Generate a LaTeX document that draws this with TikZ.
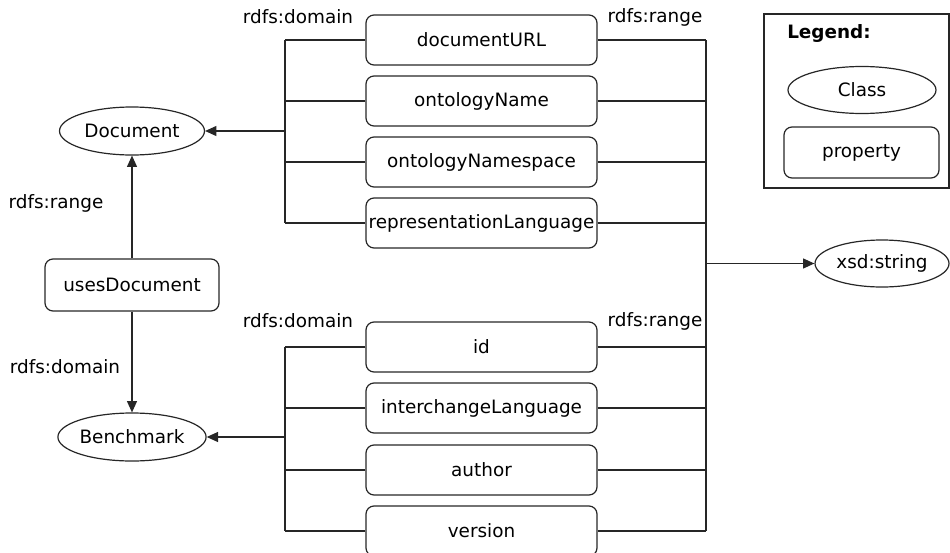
\documentclass[tikz,border=0pt]{standalone}
\usepackage{fontspec}
\setmainfont{DejaVu Sans}
\usetikzlibrary{shapes.geometric,arrows.meta}

\begin{document}
\begin{tikzpicture}[x=0.75pt,y=-0.75pt,
  every node/.style={font=\fontsize{13.8}{16}\selectfont},
  line/.style={line width=0.9pt,draw=black!85},
  arr/.style={line,-{Triangle[length=8.5pt,width=7.5pt]}},
  prop/.style={draw=black!85,line width=0.9pt,rounded corners=6pt,
               minimum width=173.25pt,minimum height=37.5pt,inner sep=0pt},
  cls/.style={ellipse,draw=black!85,line width=0.9pt,
              minimum width=108.75pt,minimum height=36pt,inner sep=0pt},
  lbl/.style={inner sep=0pt}
]
\useasboundingbox (0,0) rectangle (950,553);

% classes
\node[cls] (doc) at (132,131) {Document};
\node[cls] (bench) at (132,437) {Benchmark};
\node[cls,minimum width=100.5pt,minimum height=35.25pt] (xsd) at (882,263.5) {xsd:string};

% object property linking the two classes
\node[prop,minimum width=130.5pt,minimum height=39pt] (uses) at (132,285) {usesDocument};
\draw[arr] (uses.north) -- (doc.south);
\draw[arr] (uses.south) -- (bench.north);
\node[lbl] (rngL) at (56,203) {rdfs:range};
\node[lbl] (domL) at (65,367) {rdfs:domain};

% datatype properties of Document
\node[prop] (durl) at (481.5,40) {documentURL};
\node[prop] (oname) at (481.5,101) {ontologyName};
\node[prop] (ons) at (481.5,162) {ontologyNamespace};
\node[prop] (rlang) at (481.5,223) {representationLanguage};

% datatype properties of Benchmark
\node[prop] (id) at (481.5,347) {id};
\node[prop] (ilang) at (481.5,408) {interchangeLanguage};
\node[prop] (auth) at (481.5,470) {author};
\node[prop] (ver) at (481.5,531) {version};

% bus positions
\coordinate (lbus) at (285,0);
\coordinate (rbus) at (706,0);

% domain bus, Document group
\foreach \p in {durl,oname,ons,rlang}
  \draw[line] (\p.west) -- (\p.west -| lbus);
\draw[line] (durl.west -| lbus) -- (rlang.west -| lbus);
\draw[arr] (lbus |- doc) -- (doc.east);

% domain bus, Benchmark group
\foreach \p in {id,ilang,auth,ver}
  \draw[line] (\p.west) -- (\p.west -| lbus);
\draw[line] (id.west -| lbus) -- (ver.west -| lbus);
\draw[arr] (lbus |- bench) -- (bench.east);

% range bus to xsd:string
\foreach \p in {durl,oname,ons,rlang,id,ilang,auth,ver}
  \draw[line] (\p.east) -- (\p.east -| rbus);
\draw[line] (durl.east -| rbus) -- (ver.east -| rbus);
\draw[arr] (rbus |- xsd) -- (xsd.west);

% bus labels
\node[lbl] (d1) at (298,17) {rdfs:domain};
\node[lbl] (r1) at (655,17) {rdfs:range};
\node[lbl] (d2) at (298,321) {rdfs:domain};
\node[lbl] (r2) at (655,321) {rdfs:range};

% legend
\node[draw=black!85,line width=0.9pt,minimum width=138.75pt,minimum height=130.5pt,inner sep=0pt] (legend) at (856.5,101) {};
\node[lbl,anchor=west,font=\fontsize{13.8}{16}\selectfont\bfseries] (legt) at (787,33) {Legend:};
\node[cls,minimum width=111pt,minimum height=35.25pt] (lcls) at (862,90) {Class};
\node[prop,minimum width=116.25pt,minimum height=38.25pt] (lprop) at (861.5,152.5) {property};
\end{tikzpicture}
\end{document}
